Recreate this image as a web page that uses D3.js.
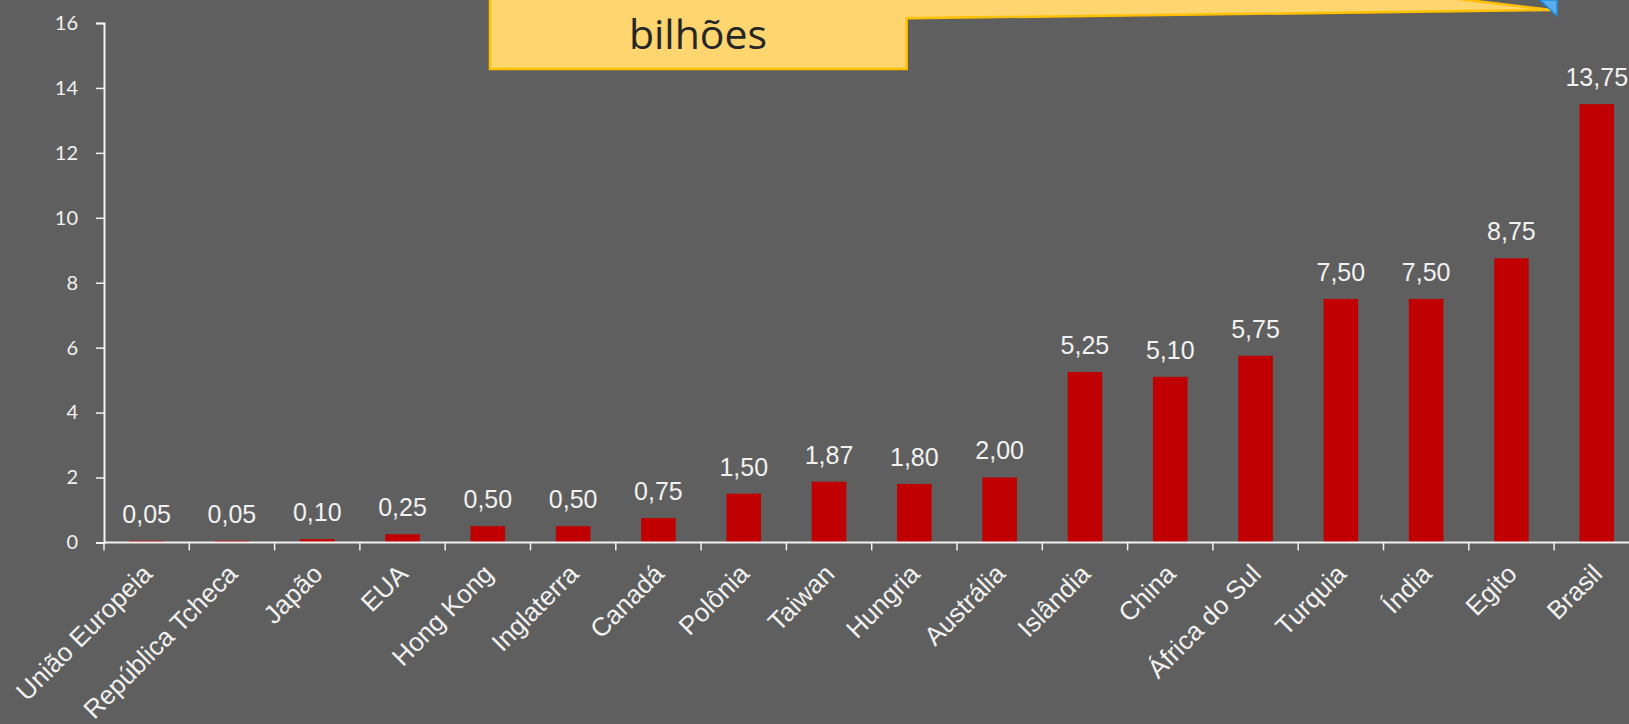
<!DOCTYPE html>
<html>
<head>
<meta charset="utf-8">
<script src="https://cdn.jsdelivr.net/npm/d3@7"></script>
<style>
    html, body { margin: 0; padding: 0; background: #5f5f5f; overflow: hidden; }
    svg { display: block; }
    .yTick { font-family: Lato, "Open Sans", sans-serif; font-size: 20px; fill: #f2f2f2; }
    .xLabel { font-family: "Liberation Sans", Arial, sans-serif; font-size: 26px; fill: #f2f2f2; }
    .valueLabel { font-family: "Liberation Sans", Arial, sans-serif; font-size: 25px; fill: #f2f2f2; }
</style>
</head>
<body>
<svg id="chart" width="1629" height="724"></svg>
<script>
const categories = ["União Europeia", "República Tcheca", "Japão", "EUA", "Hong Kong", "Inglaterra", "Canadá", "Polônia", "Taiwan", "Hungria", "Austrália", "Islândia", "China", "África do Sul", "Turquia", "Índia", "Egito", "Brasil"]
// bar heights as drawn in the picture
const values = [0.05, 0.05, 0.10, 0.25, 0.50, 0.50, 0.75, 1.50, 1.87, 1.80, 2.00, 5.25, 5.10, 5.75, 7.50, 7.50, 8.75, 13.50]
// labels as printed above the bars
const valueLabels = ["0,05", "0,05", "0,10", "0,25", "0,50", "0,50", "0,75", "1,50", "1,87", "1,80", "2,00", "5,25", "5,10", "5,75", "7,50", "7,50", "8,75", "13,75"]
const yTicks = [0, 2, 4, 6, 8, 10, 12, 14, 16]
const calloutText = "bilhões"

const svg = d3.select("#chart")
const margin = { top: 23, left: 104, bottom: 181.6 }
const height = +svg.attr("height")

const x = d3.scaleBand()
    .domain(categories)
    .range([margin.left, margin.left + 18 * 85.3])
    .paddingInner(0.595)
    .paddingOuter(0.2975)

const step = x.step()

const y = d3.scaleLinear()
    .domain([0, 16])
    .range([height - margin.bottom, margin.top])

// y axis
const yAxis = svg.append("g")
    .attr("transform", "translate(" + margin.left + ",0)")
    .call(d3.axisLeft(y).tickValues(yTicks).tickSize(8).tickPadding(18))
yAxis.attr("font-size", null).attr("font-family", null)
yAxis.select(".domain").attr("stroke", "#f2f2f2").attr("stroke-width", 2)
yAxis.selectAll(".tick line").attr("stroke", "#f2f2f2").attr("stroke-width", 1.5)
yAxis.selectAll(".tick text").attr("class", "yTick").attr("fill", null)

// bars
svg.append("g").selectAll(".bar")
    .data(values)
    .enter().append("rect")
    .attr("class", "bar")
    .attr("x", (d, i) => x(categories[i]))
    .attr("y", d => y(d))
    .attr("width", x.bandwidth())
    .attr("height", d => y(0) - y(d))
    .attr("fill", "#c00000")

// x axis (ticks between categories)
const xg = svg.append("g")
xg.append("line")
    .attr("x1", margin.left).attr("x2", 1640)
    .attr("y1", y(0)).attr("y2", y(0))
    .attr("stroke", "#f2f2f2").attr("stroke-width", 2)
xg.selectAll(".xtick")
    .data(d3.range(categories.length + 1))
    .enter().append("line")
    .attr("x1", i => margin.left + i * step)
    .attr("x2", i => margin.left + i * step)
    .attr("y1", y(0)).attr("y2", y(0) + 8)
    .attr("stroke", "#f2f2f2").attr("stroke-width", 1.5)

xg.selectAll(".xLabel")
    .data(categories)
    .enter().append("text")
    .attr("class", "xLabel")
    .attr("text-anchor", "end")
    .attr("transform", d => "translate(" + (x(d) + x.bandwidth() / 2 + 7) + "," + (y(0) + 33) + ") rotate(-45)")
    .text(d => d)

// value labels
svg.append("g").selectAll(".valueLabel")
    .data(values)
    .enter().append("text")
    .attr("class", "valueLabel")
    .attr("text-anchor", "middle")
    .attr("x", (d, i) => x(categories[i]) + x.bandwidth() / 2)
    .attr("y", d => y(d) - 18)
    .text((d, i) => valueLabels[i])

// callout
const callout = svg.append("g")
callout.append("path")
    .attr("d", "M490,-200 L906.7,-200 L906.7,-66 L1552,10 L906.7,18.3 L906.7,69 L490,69 Z")
    .attr("fill", "#ffd56f")
    .attr("stroke", "#ffc000")
    .attr("stroke-width", 2.5)
callout.append("path")
    .attr("d", "M1540,0 L1557,0 L1557,15.7 Z")
    .attr("fill", "#5aaef0")
    .attr("stroke", "#1e8fe0")
    .attr("stroke-width", 1.5)
callout.append("text")
    .attr("x", 698)
    .attr("y", 49.3)
    .attr("text-anchor", "middle")
    .attr("font-family", "'Open Sans', sans-serif")
    .attr("font-size", 41)
    .attr("fill", "#262626")
    .text(calloutText)
</script>
</body>
</html>
